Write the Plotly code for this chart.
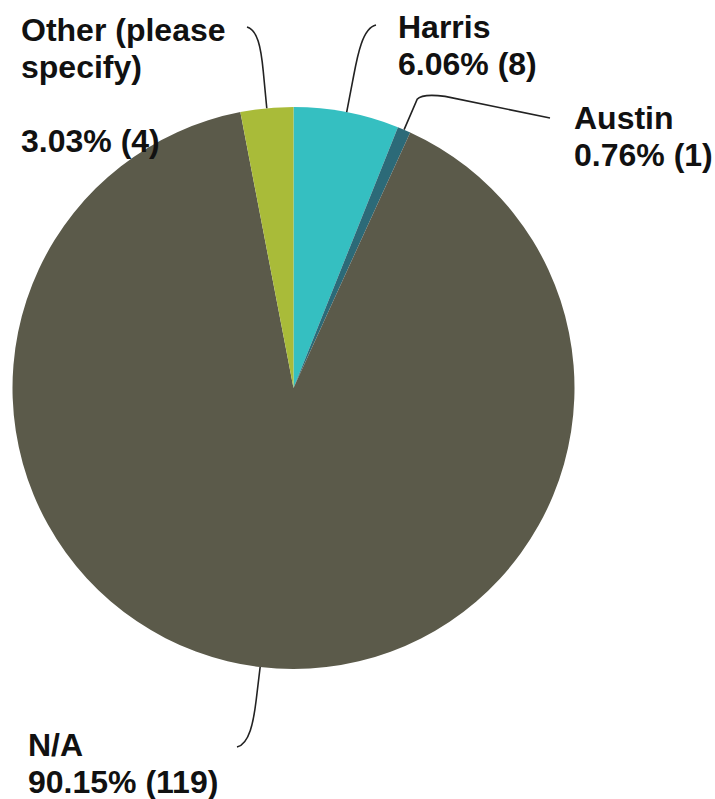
import math
import plotly.graph_objects as go

W, H = 715, 799

# ---- data ----
labels = ["Harris", "Austin", "N/A", "Other (please specify)"]
counts = [8, 1, 119, 4]
label_lines = [["Harris"], ["Austin"], ["N/A"], ["Other (please", "specify)", ""]]
colors = ["#35BFC1", "#2C6A78", "#5B5A4A", "#A9BB39"]

# ---- layout constants (pixels) ----
CX, CY, R = 293.5, 388.0, 281.0
FONT_SIZE = 32
LINE_H = 37
# label left x and first-line baseline (px)
label_pos = [(396, 37), (572, 128), (26, 755), (19, 40)]
leader_end = [(376, 25), (550, 118), (237, 747), (247, 27)]
leader_len = [52, 33, 55, 62]


def X(px):
    return px / W


def Y(py):
    return 1 - py / H


total = sum(counts)
pcts = [c / total * 100 for c in counts]

fig = go.Figure(
    go.Pie(
        values=counts,
        labels=labels,
        sort=False,
        direction="clockwise",
        rotation=0,
        textinfo="none",
        marker=dict(colors=colors, line=dict(width=0)),
        showlegend=False,
        domain=dict(x=[X(CX - R), X(CX + R)], y=[Y(CY + R), Y(CY - R)]),
        hovertemplate="%{label}: %{value}<extra></extra>",
    )
)

shapes = []
annotations = []
cum = 0.0
for i, (c, p) in enumerate(zip(counts, pcts)):
    mid = (cum + c / 2) / total
    cum += c
    th = 2 * math.pi * mid
    ux, uy = math.sin(th), -math.cos(th)
    sx, sy = CX + R * ux, CY + R * uy
    ex, ey = leader_end[i]
    L = leader_len[i]
    kx, ky = sx + ux * L, sy + uy * L
    if labels[i] == "Austin":
        path = (
            f"M {X(sx)},{Y(sy)} L {X(kx)},{Y(ky)} "
            f"Q {X(kx + 5)},{Y(ky - 6)} {X(kx + 28)},{Y(ky - 3)} "
            f"L {X(ex)},{Y(ey)}"
        )
    else:
        c2x = kx + (ex - kx) * 0.25
        c2y = ey + (3 if ey < sy else -3)
        path = (
            f"M {X(sx)},{Y(sy)} L {X(sx + ux * L * 0.6)},{Y(sy + uy * L * 0.6)} "
            f"C {X(kx)},{Y(ky)} {X(c2x)},{Y(c2y)} {X(ex)},{Y(ey)}"
        )
    shapes.append(
        dict(type="path", path=path, xref="paper", yref="paper",
             line=dict(color="#222222", width=1.6))
    )
    lines = label_lines[i] + [f"{p:.2f}% ({c})"]
    lx, by = label_pos[i]
    for j, t in enumerate(lines):
        if not t:
            continue
        base = by + j * LINE_H
        annotations.append(
            dict(
                x=X(lx), y=Y(base - 10), xref="paper", yref="paper",
                xanchor="left", yanchor="middle", align="left",
                text=t, showarrow=False,
                font=dict(family="Liberation Sans, Arial, sans-serif",
                          size=FONT_SIZE, color="#111111", weight="bold"),
            )
        )

fig.update_layout(
    width=W,
    height=H,
    margin=dict(l=0, r=0, t=0, b=0),
    paper_bgcolor="white",
    plot_bgcolor="white",
    shapes=shapes,
    annotations=annotations,
)

fig.write_html(
    "out.html",
    config={"displayModeBar": False},
    post_script="document.body.style.margin='0';document.body.style.overflow='hidden';",
)
